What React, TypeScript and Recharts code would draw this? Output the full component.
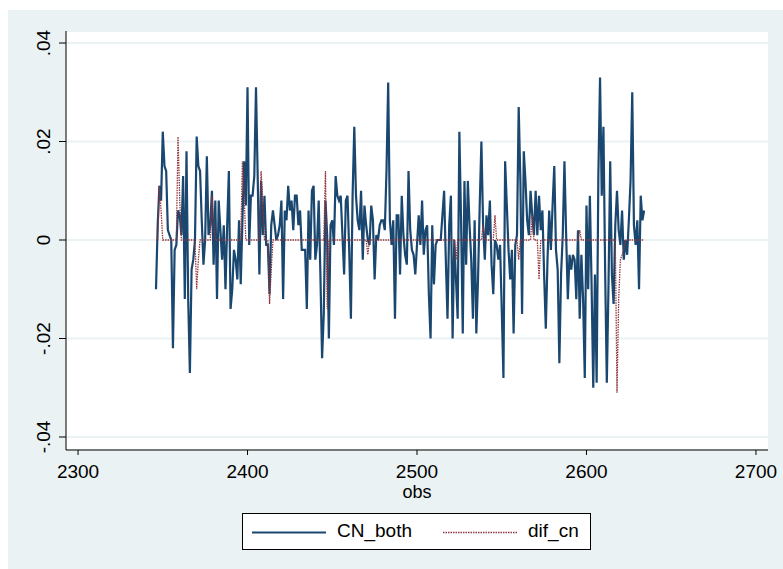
import { LineChart, Line, XAxis, YAxis, CartesianGrid, Label } from "recharts";

const OBS_START = 2346;

const cnBoth = [
  -0.010, 0.003, 0.011, 0.008, 0.022, 0.015, 0.014, 0.002, 0.001, 0.000,
  -0.022, -0.002, -0.001, 0.006, 0.005, 0.001, 0.013, -0.012, 0.018, -0.012,
  -0.027, -0.006, -0.004, 0.000, 0.021, 0.015, 0.014, 0.004, -0.005, 0.000,
  0.017, 0.001, 0.003, 0.010, -0.005, 0.008, -0.012, 0.008, 0.002, -0.004,
  0.003, -0.010, 0.003, 0.014, -0.014, -0.010, -0.002, -0.004, -0.008, 0.004,
  -0.009, 0.004, 0.016, 0.007, 0.031, -0.001, 0.009, 0.009, 0.013, 0.031,
  0.013, -0.007, 0.012, 0.001, 0.009, -0.001, -0.001, -0.011, 0.003, 0.006,
  0.003, 0.000, 0.001, 0.003, 0.008, -0.012, 0.006, 0.004, 0.011, 0.006,
  0.008, 0.002, 0.009, 0.009, 0.003, 0.006, -0.002, -0.002, -0.002, -0.014,
  0.006, -0.004, 0.010, 0.011, -0.004, -0.001, 0.008, -0.007, -0.024, -0.015,
  0.008, 0.001, -0.020, 0.003, 0.004, -0.001, 0.013, 0.009, 0.008, 0.009,
  0.001, -0.007, 0.008, 0.009, -0.002, -0.016, 0.009, 0.023, 0.009, 0.004,
  0.002, 0.010, -0.004, 0.007, 0.003, 0.000, -0.001, 0.007, 0.004, -0.008,
  0.001, 0.000, 0.003, 0.004, 0.004, 0.002, 0.014, 0.032, 0.004, -0.001,
  0.004, -0.016, 0.005, 0.005, -0.007, 0.009, 0.001, -0.003, -0.005, 0.014,
  0.002, -0.002, -0.003, -0.007, -0.001, 0.005, -0.001, 0.008, -0.003, 0.002,
  0.003, -0.011, -0.020, 0.003, -0.009, -0.001, 0.000, 0.000, 0.000, 0.005,
  0.010, -0.004, -0.016, 0.003, 0.009, -0.020, 0.000, -0.008, -0.016, 0.022,
  0.004, -0.019, 0.012, -0.005, 0.012, 0.003, -0.004, -0.016, 0.004, -0.019,
  -0.008, 0.007, 0.020, 0.003, -0.004, 0.005, 0.001, 0.008, -0.005, -0.011,
  0.000, -0.001, -0.004, -0.001, -0.014, -0.028, 0.016, 0.007, -0.002, -0.008,
  -0.002, -0.019, -0.001, 0.001, 0.027, 0.012, -0.015, 0.018, 0.012, 0.004,
  0.001, 0.010, 0.005, 0.001, 0.010, 0.001, 0.009, 0.002, 0.006, -0.007,
  -0.018, -0.004, 0.006, -0.002, 0.007, 0.015, -0.002, -0.006, -0.025, -0.007,
  0.001, 0.016, 0.001, -0.012, -0.003, -0.006, -0.003, -0.004, -0.012, 0.002,
  -0.016, -0.003, -0.012, -0.028, 0.007, -0.010, 0.009, -0.009, -0.030, -0.007,
  -0.029, 0.013, 0.033, 0.009, 0.023, -0.006, -0.029, -0.009, 0.016, -0.007,
  -0.013, 0.003, 0.010, 0.002, -0.001, 0.006, -0.004, 0.000, -0.003, 0.004,
  0.012, 0.030, 0.003, -0.001, 0.004, -0.010, 0.009, 0.004, 0.006,
];

const difCn = [
  0, 0, 0.011, 0.006, 0, 0, 0, 0, 0, 0,
  0, 0, 0, 0.021, 0.008, 0, 0, 0, 0, 0,
  0, 0, 0, 0, -0.010, -0.004, 0, 0, 0, 0,
  0, 0, 0, 0.009, 0.004, 0, 0, 0, 0, 0,
  0, 0, 0, 0, 0, 0, 0, 0, 0, 0,
  0, 0.016, 0.009, 0, 0, 0, 0, 0, 0, 0,
  0, 0, 0.014, 0.008, 0, 0, 0, -0.013, -0.006, 0,
  0, 0, 0, 0, 0, 0, 0, 0, 0, 0,
  0, 0, 0, 0, 0, 0, 0, 0, 0, 0,
  0, 0, 0, 0, 0, 0, 0, 0, 0, 0,
  0.014, -0.014, 0, 0, 0, 0, 0, 0, 0, 0,
  0, 0, 0, 0, 0, 0, 0, 0, 0, 0,
  0, 0, 0, 0, 0, -0.003, 0, 0, 0, 0,
  0, 0, 0, 0, 0, 0, 0, 0, 0, 0,
  0, 0, 0, 0, 0, 0, 0, 0, 0, 0,
  0, 0, 0, 0, 0, 0, 0, 0, 0, 0,
  0, 0, 0, 0, 0, 0, 0, 0, 0, 0,
  0, 0, 0, 0, 0, 0, 0, -0.004, 0, 0,
  0, 0, 0, 0, 0, 0, 0, 0, 0, 0,
  0, 0, 0, 0.003, 0, 0, 0, 0, 0, 0,
  0.005, 0, 0, 0, 0, 0, 0, 0, 0, 0,
  0, 0, 0, 0, -0.004, 0, 0, 0, 0, 0,
  0, 0, 0.005, 0, 0, 0, -0.008, 0, 0, 0,
  0, 0, 0, 0, 0, 0, 0, 0, 0, 0,
  0, 0, 0, 0, 0, 0, 0, 0, 0, 0,
  0.002, 0, 0, 0, 0, 0, 0, 0, 0, 0,
  0, 0, 0, 0, 0, 0, 0, 0, 0, 0,
  0, 0, -0.031, -0.012, -0.004, -0.003, -0.002, 0, 0, 0,
  0, 0, 0, 0, 0, 0, 0, 0, 0,
];

const xTicks = [2300, 2400, 2500, 2600, 2700];
const yTicks = [-0.04, -0.02, 0, 0.02, 0.04];

const NAVY = "#1a476f";
const MAROON = "#90353b";
const BG = "#eaf2f3";
const FONT = "'Liberation Sans', Arial, sans-serif";

const data = cnBoth.map((v, i) => ({
  obs: OBS_START + i,
  CN_both: v,
  dif_cn: difCn[i],
}));

// stata style: .02, -.04
const fmtY = (v: number) =>
  v === 0 ? "0" : (v < 0 ? "-" : "") + Math.abs(v).toFixed(2).replace(/^0/, "");

const YTick = ({ x, y, payload }: any) => {
  const bx = x - 7;
  return (
    <text
      x={bx}
      y={y}
      transform={`rotate(-90 ${bx} ${y})`}
      textAnchor="middle"
      fontSize={19}
      fontFamily={FONT}
      fill="#000"
    >
      {fmtY(payload.value)}
    </text>
  );
};

export default function App() {
  return (
    <div style={{ position: "absolute", left: 0, top: 0, width: 783, height: 569, background: "#fff" }}>
      <div style={{ position: "absolute", left: 8, top: 10, width: 775, height: 559, background: BG }} />
      <div style={{ position: "absolute", left: 0, top: 0 }}>
        <LineChart
          width={783}
          height={569}
          data={data}
          margin={{ top: 31, right: 15, bottom: 0, left: 0 }}
        >
          <CartesianGrid
            vertical={false}
            fill="#fff"
            stroke={BG}
            strokeWidth={2}
          />
          <XAxis
            dataKey="obs"
            type="number"
            domain={[2292.9, 2707.1]}
            ticks={xTicks}
            allowDataOverflow
            height={119}
            tickSize={5}
            tickMargin={10}
            stroke="#000"
            tick={{ fill: "#000", fontSize: 19, fontFamily: FONT }}
          >
            <Label
              value="obs"
              position="insideTop"
              offset={35}
              fill="#000"
              fontSize={18}
              fontFamily={FONT}
            />
          </XAxis>
          <YAxis
            type="number"
            domain={[-0.04264, 0.04244]}
            ticks={yTicks}
            allowDataOverflow
            width={66}
            tickSize={7}
            tickMargin={2}
            stroke="#000"
            tick={<YTick />}
          />
          <Line
            type="linear"
            dataKey="CN_both"
            stroke={NAVY}
            strokeWidth={2.2}
            dot={false}
            isAnimationActive={false}
          />
          <Line
            type="linear"
            dataKey="dif_cn"
            stroke={MAROON}
            strokeWidth={1.3}
            strokeDasharray="1.5 1"
            dot={false}
            isAnimationActive={false}
          />
        </LineChart>
      </div>
      <div
        style={{
          position: "absolute",
          left: 242,
          top: 513,
          width: 347,
          height: 35,
          background: "#fff",
          border: "1px solid #000",
          fontFamily: FONT,
          fontSize: 19,
          color: "#000",
        }}
      >
        <svg width={347} height={35} style={{ position: "absolute", left: 0, top: 0 }}>
          <line x1={9} x2={83} y1={18.5} y2={18.5} stroke={NAVY} strokeWidth={2} />
          <line x1={200} x2={275} y1={18.5} y2={18.5} stroke={MAROON} strokeWidth={1.3} strokeDasharray="1.5 1" />
        </svg>
        <span style={{ position: "absolute", left: 94, top: 6, lineHeight: "22px" }}>CN_both</span>
        <span style={{ position: "absolute", left: 285, top: 6, lineHeight: "22px" }}>dif_cn</span>
      </div>
    </div>
  );
}
